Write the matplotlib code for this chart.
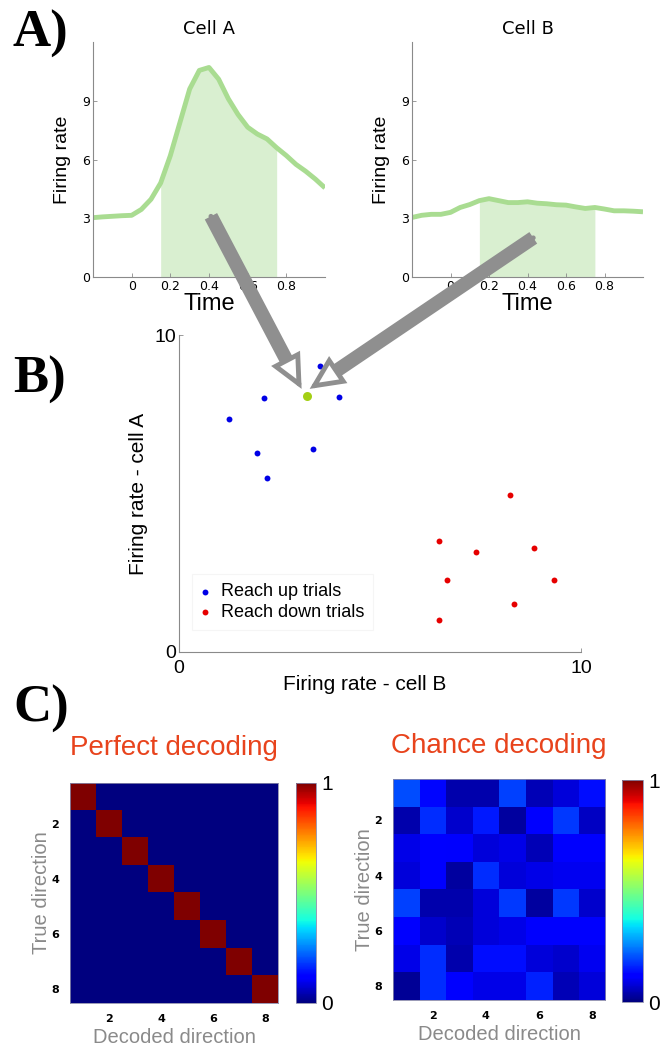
import matplotlib
matplotlib.use("Agg")
import matplotlib.pyplot as plt
import numpy as np
from matplotlib.patches import ConnectionPatch

plt.rcParams["font.family"] = ["Liberation Sans", "DejaVu Sans"]

W, H = 669, 1049

# firing rate traces
time = [-0.2, -0.15, -0.1, -0.05, 0.0, 0.05, 0.1, 0.15, 0.2, 0.25, 0.3, 0.35, 0.4,
        0.45, 0.5, 0.55, 0.6, 0.65, 0.7, 0.75, 0.8, 0.85, 0.9, 0.95, 1.0]
rate_a = [3.03, 3.07, 3.1, 3.13, 3.15, 3.45, 3.97, 4.8, 6.2, 7.9, 9.6, 10.55, 10.7,
          10.1, 9.1, 8.3, 7.65, 7.3, 7.05, 6.6, 6.2, 5.75, 5.4, 5.0, 4.55]
rate_b = [3.04, 3.15, 3.2, 3.2, 3.3, 3.55, 3.7, 3.9, 4.0, 3.9, 3.8, 3.8, 3.84,
          3.77, 3.74, 3.69, 3.67, 3.58, 3.5, 3.55, 3.47, 3.38, 3.38, 3.36, 3.33]
window = (0.15, 0.75)

# single-trial rates (cell B, cell A)
up_b = [3.51, 2.12, 3.99, 1.25, 1.95, 3.33, 2.20]
up_a = [9.03, 8.01, 8.03, 7.35, 6.27, 6.39, 5.49]
down_b = [8.24, 6.48, 7.39, 8.83, 6.66, 9.34, 8.33, 6.46]
down_a = [4.95, 3.49, 3.16, 3.27, 2.27, 2.27, 1.52, 1.01]
probe_b, probe_a = 3.19, 8.07

# confusion matrices
perfect = np.eye(8)
chance = np.array([
    [0.20, 0.13, 0.04, 0.04, 0.19, 0.05, 0.08, 0.14],
    [0.04, 0.17, 0.07, 0.15, 0.03, 0.12, 0.18, 0.06],
    [0.09, 0.12, 0.11, 0.08, 0.09, 0.05, 0.11, 0.11],
    [0.08, 0.12, 0.03, 0.17, 0.08, 0.09, 0.10, 0.10],
    [0.19, 0.04, 0.04, 0.08, 0.18, 0.03, 0.18, 0.07],
    [0.12, 0.07, 0.05, 0.08, 0.09, 0.11, 0.11, 0.11],
    [0.09, 0.17, 0.04, 0.14, 0.14, 0.08, 0.07, 0.10],
    [0.02, 0.17, 0.12, 0.09, 0.09, 0.16, 0.05, 0.08],
])
dir_ticks = [2, 4, 6, 8]

LINE_GREEN = "#a9dc91"
FILL_GREEN = "#d9efd0"
AXIS_GRAY = "#8a8a8a"
TITLE_RED = "#e8431c"
ARROW_GRAY = "#8f8f8f"
WIDE = ["DejaVu Sans"]


def px_axes(fig, left, top, right, bottom):
    return fig.add_axes([left / W, 1 - bottom / H, (right - left) / W, (bottom - top) / H])


def style_spines(ax, color=AXIS_GRAY):
    for s in ["top", "right"]:
        ax.spines[s].set_visible(False)
    for s in ["left", "bottom"]:
        ax.spines[s].set_color(color)
        ax.spines[s].set_linewidth(0.8)


fig = plt.figure(figsize=(W / 100, H / 100), dpi=100)

# --- A) firing rate traces ---
t = np.array(time)
trace_axes = []
for (l, r), rate, title in [((93, 325), rate_a, "Cell A"), ((412, 643), rate_b, "Cell B")]:
    ax = px_axes(fig, l, 42, r, 277)
    rate = np.array(rate)
    mask = (t >= window[0] - 1e-9) & (t <= window[1] + 1e-9)
    ax.fill_between(t[mask], 0, rate[mask], color=FILL_GREEN, lw=0)
    ax.plot(t, rate, color=LINE_GREEN, lw=3.5, solid_capstyle="butt")
    ax.set_xlim(-0.2, 1.0)
    ax.set_ylim(0, 12)
    ax.set_xticks([0, 0.2, 0.4, 0.6, 0.8])
    ax.set_xticklabels(["0", "0.2", "0.4", "0.6", "0.8"])
    ax.set_yticks([0, 3, 6, 9])
    ax.tick_params(direction="in", length=3, width=0.6, color=AXIS_GRAY, labelsize=9, pad=2)
    for lab in ax.get_xticklabels() + ax.get_yticklabels():
        lab.set_family(WIDE)
    style_spines(ax)
    ax.set_title(title, fontsize=13, pad=6, family=WIDE)
    ax.set_xlabel("Time", fontsize=17, labelpad=0)
    ax.set_ylabel("Firing rate", fontsize=14, labelpad=8)
    trace_axes.append(ax)

# --- B) population space ---
axs = px_axes(fig, 179, 335, 581, 652)
axs.scatter(up_b, up_a, s=18, color="#0000e6", lw=0, label="Reach up trials", zorder=3)
axs.scatter(down_b, down_a, s=18, color="#e60000", lw=0, label="Reach down trials", zorder=3)
axs.scatter([probe_b], [probe_a], s=42, color="#a3cf14", lw=0, zorder=3)
axs.set_xlim(0, 10)
axs.set_ylim(0, 10)
axs.set_xticks([0, 10])
axs.set_yticks([0, 10])
axs.tick_params(direction="in", length=3, width=0.6, color=AXIS_GRAY, labelsize=14)
axs.tick_params(axis="x", pad=6)
axs.tick_params(axis="y", pad=2)
style_spines(axs)
axs.set_xlabel("Firing rate - cell B", fontsize=15)
axs.set_ylabel("Firing rate - cell A", fontsize=15)
axs.xaxis.set_label_coords(0.463, -0.072)
axs.yaxis.set_label_coords(-0.077, 0.5)
leg = axs.legend(loc="lower left", bbox_to_anchor=(0.032, 0.069), fontsize=13, frameon=True,
                 handlelength=0.5, handletextpad=0.6, borderpad=0.5, borderaxespad=0,
                 labelspacing=0.2, scatterpoints=1, fancybox=False)
leg.get_frame().set_edgecolor("#f3f3f3")
leg.get_frame().set_linewidth(0.8)

# arrows from the response windows to the trial point
for ax_src, src, tip in [(trace_axes[0], (0.41, 3.1), (3.05, 8.3)),
                         (trace_axes[1], (0.43, 2.0), (3.25, 8.3))]:
    shaft = ConnectionPatch(xyA=src, coordsA=ax_src.transData, xyB=tip, coordsB=axs.transData,
                            arrowstyle="-", lw=10, color=ARROW_GRAY, shrinkA=0, shrinkB=16,
                            capstyle="butt", zorder=10)
    head = ConnectionPatch(xyA=src, coordsA=ax_src.transData, xyB=tip, coordsB=axs.transData,
                           arrowstyle="-|>,head_length=1.9,head_width=0.9", mutation_scale=10,
                           lw=3.5, edgecolor=ARROW_GRAY, facecolor="white", shrinkA=0, shrinkB=0,
                           joinstyle="miter", zorder=11)
    fig.add_artist(shaft)
    fig.add_artist(head)

# --- C) confusion matrices ---
for (l, t_, r, b), (cl, ct, cr, cb_), mat, title, tpad in [
        ((70, 783, 278, 1003), (296, 783, 316, 1003), perfect, "Perfect decoding", 20),
        ((393, 779, 605, 1000), (622, 780, 643, 1002), chance, "Chance decoding", 19)]:
    ax = px_axes(fig, l, t_, r, b)
    im = ax.imshow(mat, cmap="jet", vmin=0, vmax=1, aspect="auto",
                   extent=(0.5, 8.5, 8.5, 0.5), interpolation="nearest")
    ax.set_xticks(dir_ticks)
    ax.set_yticks(dir_ticks)
    ax.tick_params(length=0, labelsize=8, pad=8)
    for lab in ax.get_xticklabels() + ax.get_yticklabels():
        lab.set_fontweight("bold")
        lab.set_family(WIDE)
    for s in ax.spines.values():
        s.set_color("#8888aa")
        s.set_linewidth(0.6)
    ax.set_xlabel("Decoded direction", fontsize=14.5, color=AXIS_GRAY, labelpad=3)
    ax.set_ylabel("True direction", fontsize=14.5, color=AXIS_GRAY, labelpad=0)
    ax.set_title(title, fontsize=20, color=TITLE_RED, pad=tpad)
    cax = px_axes(fig, cl, ct, cr, cb_)
    cbar = fig.colorbar(im, cax=cax, ticks=[0, 1])
    cbar.outline.set_edgecolor("#8888aa")
    cbar.outline.set_linewidth(0.6)
    cax.tick_params(length=0, labelsize=15, pad=4)

# panel letters
for y, letter in [(34, "A)"), (380, "B)"), (709, "C)")]:
    fig.text(13 / W, 1 - y / H, letter, fontsize=38, fontweight="bold",
             family=["Liberation Serif", "DejaVu Serif"], va="center", ha="left")

fig.savefig("out.png", dpi=100)
